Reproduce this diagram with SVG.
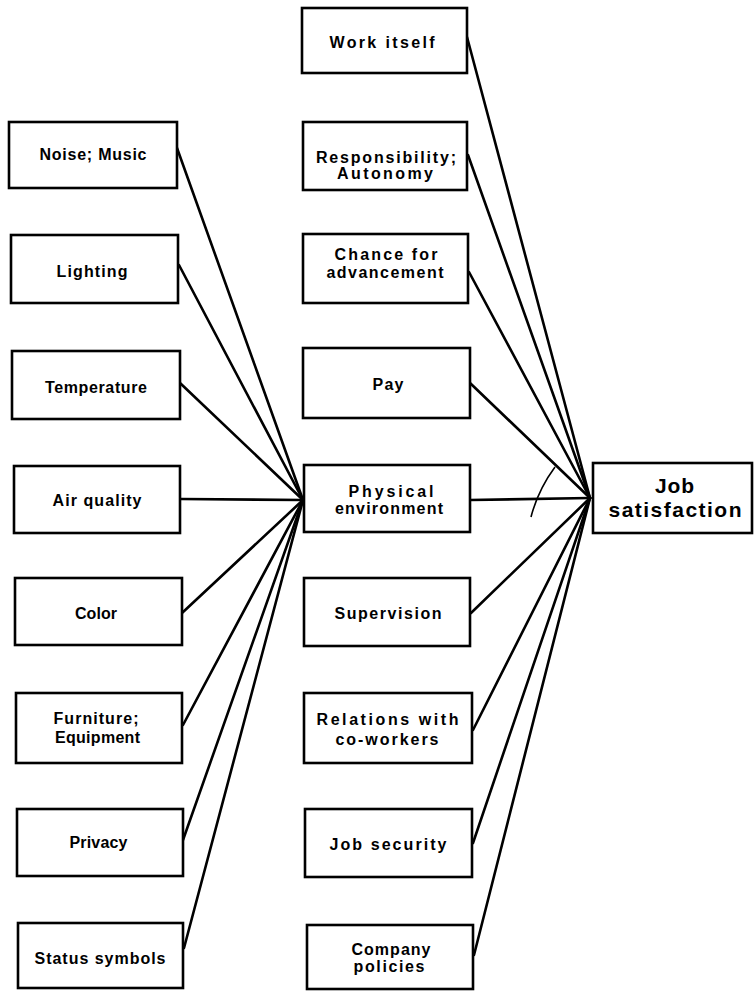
<svg xmlns="http://www.w3.org/2000/svg" width="754" height="991" viewBox="0 0 754 991">
<style>
.box{fill:#fff;stroke:#000;stroke-width:2.6}
.t{font-family:"Liberation Sans",Arial,sans-serif;font-weight:bold;font-size:16px;text-anchor:middle;fill:#000}
.big{font-size:21px}
.c{stroke:#000;stroke-width:2.6;fill:none;stroke-linecap:round}
</style>
<rect width="754" height="991" fill="#fff"/>
<g id="connectors">
<line class="c" x1="177" y1="148" x2="303" y2="500"/>
<line class="c" x1="179" y1="265" x2="303" y2="500"/>
<line class="c" x1="180" y1="383" x2="303" y2="500"/>
<line class="c" x1="181" y1="499" x2="303" y2="500"/>
<line class="c" x1="182" y1="613" x2="303" y2="500"/>
<line class="c" x1="183" y1="725" x2="303" y2="500"/>
<line class="c" x1="183" y1="840" x2="303" y2="500"/>
<line class="c" x1="184" y1="948" x2="303" y2="500"/>
<line class="c" x1="467" y1="37" x2="590" y2="498"/>
<line class="c" x1="468" y1="155" x2="590" y2="498"/>
<line class="c" x1="469" y1="272" x2="590" y2="498"/>
<line class="c" x1="470" y1="383" x2="590" y2="498"/>
<line class="c" x1="470" y1="500" x2="590" y2="498"/>
<line class="c" x1="471" y1="613" x2="590" y2="498"/>
<line class="c" x1="473" y1="730" x2="590" y2="498"/>
<line class="c" x1="473" y1="843" x2="590" y2="498"/>
<line class="c" x1="474" y1="955" x2="590" y2="498"/>
<path d="M555,467 Q538,490 531,517" stroke="#000" stroke-width="1.6" fill="none"/>
</g>
<g id="noise"><rect class="box" x="9" y="122" width="168" height="66"/><text class="t" x="93" y="160" textLength="107" lengthAdjust="spacing">Noise; Music</text></g>
<g id="lighting"><rect class="box" x="11" y="235" width="167" height="68"/><text class="t" x="92" y="277" textLength="71" lengthAdjust="spacing">Lighting</text></g>
<g id="temperature"><rect class="box" x="12" y="351" width="168" height="68"/><text class="t" x="96" y="393" textLength="102" lengthAdjust="spacing">Temperature</text></g>
<g id="air"><rect class="box" x="14" y="466" width="166" height="67"/><text class="t" x="97" y="506" textLength="89" lengthAdjust="spacing">Air quality</text></g>
<g id="color"><rect class="box" x="15" y="578" width="167" height="67"/><text class="t" x="96" y="619" textLength="42" lengthAdjust="spacing">Color</text></g>
<g id="furniture"><rect class="box" x="16" y="693" width="166" height="70"/><text class="t" x="96" y="724" textLength="85" lengthAdjust="spacing">Furniture;</text><text class="t" x="97.5" y="743" textLength="85" lengthAdjust="spacing">Equipment</text></g>
<g id="privacy"><rect class="box" x="17" y="809" width="166" height="67"/><text class="t" x="98.5" y="848" textLength="58" lengthAdjust="spacing">Privacy</text></g>
<g id="status"><rect class="box" x="18" y="923" width="165" height="65"/><text class="t" x="100" y="964" textLength="131" lengthAdjust="spacing">Status symbols</text></g>
<g id="work"><rect class="box" x="302" y="8" width="165" height="65"/><text class="t" x="382" y="48" textLength="105" lengthAdjust="spacing">Work itself</text></g>
<g id="responsibility"><rect class="box" x="303" y="122" width="164" height="68"/><text class="t" x="386" y="163" textLength="140" lengthAdjust="spacing">Responsibility;</text><text class="t" x="385" y="179" textLength="96" lengthAdjust="spacing">Autonomy</text></g>
<g id="chance"><rect class="box" x="303" y="234" width="165" height="69"/><text class="t" x="386" y="260" textLength="103" lengthAdjust="spacing">Chance for</text><text class="t" x="385" y="278" textLength="117" lengthAdjust="spacing">advancement</text></g>
<g id="pay"><rect class="box" x="303" y="348" width="167" height="70"/><text class="t" x="388" y="390" textLength="31" lengthAdjust="spacing">Pay</text></g>
<g id="physical"><rect class="box" x="304" y="465" width="166" height="67"/><text class="t" x="391" y="497" textLength="85" lengthAdjust="spacing">Physical</text><text class="t" x="389" y="514" textLength="108" lengthAdjust="spacing">environment</text></g>
<g id="supervision"><rect class="box" x="304" y="578" width="166" height="68"/><text class="t" x="388" y="619" textLength="107" lengthAdjust="spacing">Supervision</text></g>
<g id="relations"><rect class="box" x="304" y="693" width="168" height="70"/><text class="t" x="387.5" y="725" textLength="142" lengthAdjust="spacing">Relations with</text><text class="t" x="387" y="745" textLength="103" lengthAdjust="spacing">co-workers</text></g>
<g id="security"><rect class="box" x="305" y="809" width="167" height="68"/><text class="t" x="388" y="850" textLength="117" lengthAdjust="spacing">Job security</text></g>
<g id="company"><rect class="box" x="307" y="925" width="166" height="64"/><text class="t" x="391" y="955" textLength="79" lengthAdjust="spacing">Company</text><text class="t" x="389" y="972" textLength="71" lengthAdjust="spacing">policies</text></g>
<g id="job"><rect class="box" x="593" y="463" width="159" height="70"/><text class="t big" x="674.5" y="493" textLength="39" lengthAdjust="spacing">Job</text><text class="t big" x="675" y="517" textLength="133" lengthAdjust="spacing">satisfaction</text></g>
</svg>
